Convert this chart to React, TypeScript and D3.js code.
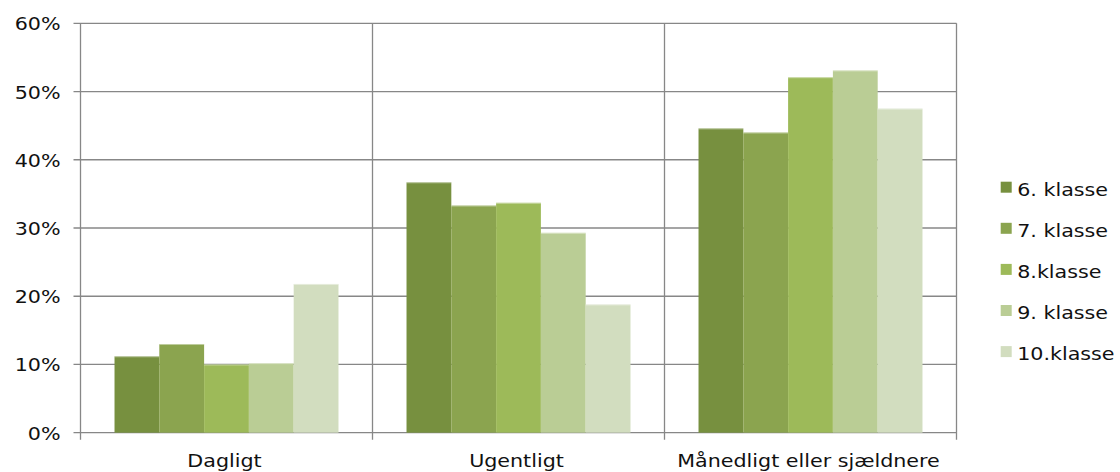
import React from 'react';
import * as d3 from 'd3';

const width = 1120;
const height = 472;
const margin = { top: 23.3, left: 80.5, right: 956.5, bottom: 432.7 };

const categories = ['Dagligt', 'Ugentligt', 'Månedligt eller sjældnere'];
const series = ['6. klasse', '7. klasse', '8.klasse', '9. klasse', '10.klasse'];
const colors = ['#77903f', '#8ba44f', '#9dba59', '#bacd95', '#d2ddbf'];
const values = [
  [0.112, 0.367, 0.446],
  [0.13, 0.333, 0.44],
  [0.1, 0.337, 0.521],
  [0.102, 0.293, 0.531],
  [0.218, 0.188, 0.475],
];
const yTicks = [0, 0.1, 0.2, 0.3, 0.4, 0.5, 0.6];

const grid = '#878787';
const font = 'DejaVu Sans, Verdana, sans-serif';
const stretch = 1.18;

const App = () => {
  const x = d3
    .scaleBand()
    .domain(categories)
    .range([margin.left, margin.right])
    .padding(0);
  const y = d3
    .scaleLinear()
    .domain([0, 0.6])
    .range([margin.bottom, margin.top]);
  const bw = x.bandwidth();
  const inner = d3
    .scaleBand()
    .domain(series)
    .range([bw * 0.1165, bw * 0.8835])
    .padding(0);
  const pct = d3.format('.0%');

  return (
    <svg
      width={width}
      height={height}
      style={{ position: 'absolute', left: 0, top: 0, display: 'block' }}
    >
      <rect width={width} height={height} fill="#fff" />
      {/* horizontal gridlines and y ticks */}
      {yTicks.map(t => (
        <g key={t}>
          <line x1={margin.left - 7} x2={margin.right} y1={y(t)} y2={y(t)} stroke={grid} strokeWidth={1.3} />
          <text
            transform={`translate(${margin.left - 20},${y(t) + 7}) scale(${stretch},1)`}
            textAnchor="end"
            fontFamily={font}
            fontSize={17.5}
            fill="#111"
          >
            {pct(t)}
          </text>
        </g>
      ))}
      {/* vertical separators */}
      {[...categories.map(c => x(c)), margin.right].map((xv, i) => (
        <line key={i} x1={xv} x2={xv} y1={margin.top} y2={margin.bottom + 7} stroke={grid} strokeWidth={1.3} />
      ))}
      {/* bars */}
      {series.map((s, si) =>
        categories.map((c, ci) => {
          const bx = x(c) + inner(s);
          const by = y(values[si][ci]);
          return (
            <g key={s + c}>
              <rect x={bx} y={by} width={inner.bandwidth()} height={margin.bottom - by} fill={colors[si]} />
              <line x1={bx} x2={bx + inner.bandwidth()} y1={by + 0.5} y2={by + 0.5} stroke="#fff" strokeOpacity={0.45} />
            </g>
          );
        })
      )}
      {/* category labels */}
      {categories.map(c => (
        <text
          key={c}
          transform={`translate(${x(c) + bw / 2 - 2},${467}) scale(${stretch},1)`}
          textAnchor="middle"
          fontFamily={font}
          fontSize={17.5}
          fill="#111"
        >
          {c}
        </text>
      ))}
      {/* legend */}
      {series.map((s, i) => (
        <g key={s} transform={`translate(1000.7,${195.7 + i * 41.1})`}>
          <rect x={0} y={-14} width={11} height={11} fill={colors[i]} />
          <text
            transform={`translate(16.5,0) scale(${stretch},1)`}
            fontFamily={font}
            fontSize={17.5}
            fill="#111"
          >
            {s}
          </text>
        </g>
      ))}
    </svg>
  );
};

export default App;
